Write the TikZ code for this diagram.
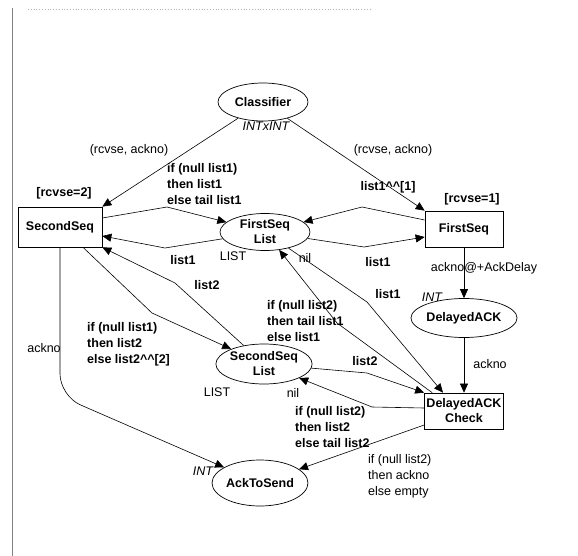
\documentclass[tikz,border=0pt]{standalone}
\usepackage{fontspec}
\setmainfont{Liberation Sans}
\usetikzlibrary{arrows.meta,shapes.geometric}

\begin{document}
\begin{tikzpicture}[x=1pt, y=-1pt,
    every node/.style={font=\fontsize{12.5}{16}\selectfont},
    place/.style={ellipse, draw, line width=0.7pt, inner sep=0pt, align=center,
      font=\fontsize{12.5}{15}\selectfont\bfseries},
    trans/.style={rectangle, draw, line width=0.7pt, inner sep=0pt, align=center,
      font=\fontsize{12.5}{15}\selectfont\bfseries},
    inscr/.style={inner sep=0pt, align=left, font=\fontsize{12.5}{16}\selectfont\bfseries},
    note/.style={inner sep=0pt, align=left},
    colset/.style={inner sep=0pt, font=\fontsize{12.5}{16}\selectfont\itshape},
    flow/.style={-{Triangle[length=9pt, width=8pt]}, line width=0.6pt}
  ]
    \useasboundingbox (0,0) rectangle (578,556);
    \draw[gray, line width=0.7pt] (12,8) -- (12,556);
    \draw[gray!60, dotted, line width=0.8pt] (28,9) -- (370,9);

    \node[place, minimum width=90pt, minimum height=38pt] (classifier) at (263,102) {Classifier};
    \node[trans, minimum width=84pt, minimum height=40pt] (secondseq) at (60,227) {SecondSeq};
    \node[trans, minimum width=78pt, minimum height=36pt] (firstseq) at (464,229) {FirstSeq};
    \node[place, minimum width=90pt, minimum height=37pt] (fslist) at (265,232) {FirstSeq\\List};
    \node[place, minimum width=92pt, minimum height=40pt] (sslist) at (264,364) {SecondSeq\\List};
    \node[place, minimum width=84pt, minimum height=39pt] (delayedack) at (464,318) {DelayedACK};
    \node[trans, minimum width=79pt, minimum height=36pt] (dacheck) at (464,411) {DelayedACK\\Check};
    \node[place, minimum width=92pt, minimum height=46pt] (acktosend) at (260,483) {AckToSend};

    \node[colset] (ctclass) at (266,126) {INTxINT};
    \node[note] (inL) at (129,150) {(rcvse, ackno)};
    \node[note] (inR) at (393,150) {(rcvse, ackno)};
    \node[inscr] (guard2) at (64,193) {[rcvse=2]};
    \node[inscr] (guard1) at (472,199) {[rcvse=1]};
    \node[inscr, anchor=west] (ins1) at (167,184) {if (null list1)\\then list1\\else tail list1};
    \node[inscr] (ins2) at (183,260) {list1};
    \node[note] (ctfs) at (233,256) {LIST};
    \node[note] (imfs) at (305,258) {nil};
    \node[inscr] (ins3) at (388,187) {list1\textasciicircum\textasciicircum[1]};
    \node[inscr] (ins4) at (378,262) {list1};
    \node[note] (ins5) at (484,268) {ackno@+AckDelay};
    \node[colset] (ctda) at (432,297) {INT};
    \node[inscr] (ins6) at (388,294) {list1};
    \node[inscr, anchor=west] (ins7) at (267,321) {if (null list2)\\then tail list1\\else list1};
    \node[inscr] (ins8) at (207,285) {list2};
    \node[inscr, anchor=west] (ins9) at (87,344) {if (null list1)\\then list2\\else list2\textasciicircum\textasciicircum[2]};
    \node[note] (ins10) at (44,348) {ackno};
    \node[note] (ctss) at (217,392) {LIST};
    \node[note] (imss) at (293,393) {nil};
    \node[inscr] (ins11) at (365,361) {list2};
    \node[note] (ins12) at (490,364) {ackno};
    \node[inscr, anchor=west] (ins13) at (295,427) {if (null list2)\\then list2\\else tail list2};
    \node[note, anchor=west] (ins14) at (368,476) {if (null list2)\\then ackno\\else empty};
    \node[colset] (ctack) at (203,471) {INT};

    \draw[flow] (classifier) -- (secondseq.north east);
    \draw[flow] (classifier) -- (firstseq.north west);
    \draw[flow] ([yshift=9pt]secondseq.east) -- (167,207) -- (fslist);
    \draw[flow] (fslist) -- (165,248) -- ([yshift=-9pt]secondseq.east);
    \draw[flow] ([yshift=9pt]firstseq.west) -- (362,207) -- (fslist);
    \draw[flow] (fslist) -- (364,247) -- ([yshift=-8pt]firstseq.west);
    \draw[flow] ([xshift=23pt]secondseq.south) -- (152,313) -- (sslist);
    \draw[flow] (sslist) -- (175,283) -- (secondseq.south east);
    \draw[flow, rounded corners=22pt] (secondseq.south) -- (60,396) -- (acktosend);
    \draw[flow] (fslist) -- (367,302) -- ([xshift=-21pt]dacheck.north);
    \draw[flow] ([xshift=8pt]dacheck.north west) -- (337,323) -- (fslist);
    \draw[flow] (sslist) -- (367,373) -- (dacheck.north west);
    \draw[flow] ([yshift=3pt]dacheck.west) -- (372,407) -- (sslist);
    \draw[flow] ([yshift=-14pt]dacheck.west) -- (acktosend);
    \draw[flow] (firstseq) -- (delayedack);
    \draw[flow] (delayedack) -- (dacheck);
  \end{tikzpicture}
\end{document}
